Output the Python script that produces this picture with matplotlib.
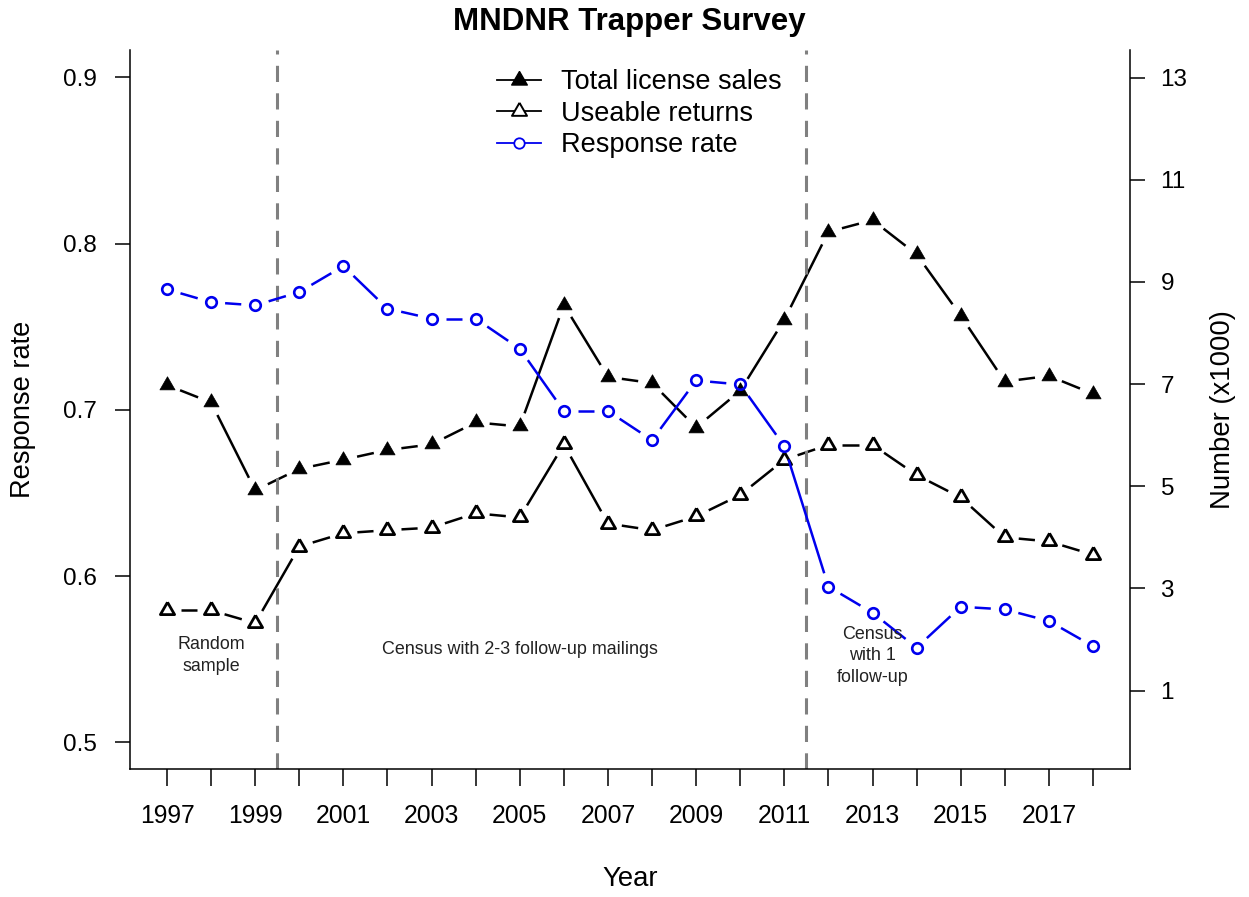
"""
MNDNR Trapper Survey: license sales, useable returns and response rate, 1997-2018.
Draws R-style type="b" lines (segments stop short of the points).
"""

import numpy as np
import matplotlib

matplotlib.use("Agg")
import matplotlib.pyplot as plt
from matplotlib.lines import Line2D

plt.rcParams["font.family"] = ["Liberation Sans", "DejaVu Sans"]

years = list(range(1997, 2019))

# left axis
response_rate = [
    0.7725, 0.7648, 0.7629, 0.7709, 0.7865, 0.7609, 0.7549, 0.7549, 0.7368,
    0.6993, 0.6993, 0.6818, 0.7177, 0.7153, 0.6782, 0.5937, 0.5780, 0.5570,
    0.5816, 0.5800, 0.5730, 0.5579,
]
# right axis (x1000)
total_license_sales = [
    6.98, 6.64, 4.92, 5.34, 5.52, 5.71, 5.82, 6.25, 6.17, 8.55, 7.14, 7.02,
    6.15, 6.87, 8.26, 9.98, 10.21, 9.54, 8.34, 7.05, 7.16, 6.81,
]
useable_returns = [
    2.57, 2.57, 2.32, 3.82, 4.08, 4.14, 4.19, 4.47, 4.39, 5.82, 4.27, 4.14,
    4.41, 4.83, 5.52, 5.81, 5.81, 5.22, 4.78, 4.00, 3.92, 3.66,
]

period_breaks = [1999.5, 2011.5]
period_labels = ["Random\nsample", "Census with 2-3 follow-up mailings", "Census\nwith 1\nfollow-up"]
period_label_x = [1998, 2005, 2013]
period_label_y = [0.5525, 0.556, 0.552]

W, H = 1249, 897
# equilateral triangle, circumcentre on the point (like R pch 2/17)
TRI = [(0.0, 1.0), (0.866, -0.5), (-0.866, -0.5), (0.0, 1.0)]
GAP = 14  # px


def type_b(ax, x, y, gap, **kw):
    """Line segments shortened by `gap` pixels at each end."""
    pts = ax.transData.transform(np.column_stack([x, y]))
    inv = ax.transData.inverted()
    for p0, p1 in zip(pts[:-1], pts[1:]):
        d = p1 - p0
        n = np.hypot(*d)
        if n <= 2 * gap:
            continue
        u = d / n
        q = inv.transform(np.array([p0 + u * gap, p1 - u * gap]))
        ax.plot(q[:, 0], q[:, 1], solid_capstyle="butt", **kw)


fig = plt.figure(figsize=(W / 100, H / 100), dpi=100)
ax = fig.add_axes([130 / W, 1 - 769 / H, 1000 / W, 719 / H])
ax2 = ax.twinx()
ax.set_zorder(ax2.get_zorder() + 1)
ax.patch.set_visible(False)

ax.set_xlim(1996.16, 2018.84)
ax.set_ylim(0.484, 0.9165)
ax2.set_ylim(-0.535, 13.54)

for a in (ax, ax2):
    for s in a.spines.values():
        s.set_linewidth(1.1)
ax.spines["top"].set_visible(False)
ax.spines["right"].set_visible(False)
ax2.spines["top"].set_visible(False)
ax2.spines["left"].set_visible(False)
ax2.spines["bottom"].set_visible(False)

# period separators
for xb in period_breaks:
    ax.axvline(xb, color="#808080", lw=2.2, dashes=(5.3, 3.7), zorder=1)

# series
lw = 1.8
type_b(ax2, years, total_license_sales, GAP, color="black", lw=lw, zorder=2)
ax2.plot(years, total_license_sales, ls="none", marker=TRI, ms=12.6,
         mfc="black", mec="black", mew=0.5, zorder=3)
type_b(ax2, years, useable_returns, GAP, color="black", lw=lw, zorder=2)
ax2.plot(years, useable_returns, ls="none", marker=TRI, ms=11.8,
         mfc="none", mec="black", mew=2.0, zorder=3)
type_b(ax, years, response_rate, GAP, color="#0000ee", lw=lw, zorder=2)
ax.plot(years, response_rate, ls="none", marker="o", ms=7.6,
        mfc="none", mec="#0000ee", mew=1.9, zorder=3)

for tx, ty, lab in zip(period_label_x, period_label_y, period_labels):
    ax.text(tx, ty, lab, ha="center", va="center", fontsize=12.9,
            color="#222222", linespacing=1.38, zorder=4)

# axes / ticks
ax.set_xticks(years)
ax.set_xticklabels([str(y) if (y - 1997) % 2 == 0 else "" for y in years])
ax.set_yticks([0.5, 0.6, 0.7, 0.8, 0.9])
ax.set_yticklabels(["0.5", "0.6", "0.7", "0.8", "0.9"])
ax2.set_yticks([1, 3, 5, 7, 9, 11, 13])
ax.tick_params(axis="x", direction="out", length=12, width=1.1, pad=13, labelsize=17.8)
ax.tick_params(axis="y", direction="out", length=11, width=1.1, pad=13, labelsize=17.5)
ax2.tick_params(axis="y", direction="out", length=11, width=1.1, pad=11, labelsize=17.5)

ax.set_xlabel("Year", fontsize=19.8)
ax.xaxis.set_label_coords(0.5, (769 - 879) / 719)
ax.xaxis.label.set_va("center")
ax.set_ylabel("Response rate", fontsize=19.6)
ax.yaxis.set_label_coords((23 - 130) / 1000, 0.5)
ax.yaxis.label.set_va("center")
ax2.set_ylabel("Number (x1000)", fontsize=19.8)
ax2.yaxis.set_label_coords((1223 - 130) / 1000, 0.5)
ax2.yaxis.label.set_va("center")

fig.text(629 / W, 1 - 22 / H, "MNDNR Trapper Survey", ha="center", va="center",
         fontsize=22.5, fontweight="bold")

handles = [
    Line2D([0], [0], color="black", lw=1.3, marker=TRI, ms=13, mfc="black",
           mec="black", label="Total license sales"),
    Line2D([0], [0], color="black", lw=1.3, marker=TRI, ms=12.5, mfc="white",
           mec="black", mew=1.4, label="Useable returns"),
    Line2D([0], [0], color="#0000ee", lw=1.3, marker="o", ms=7.5, mfc="white",
           mec="#0000ee", mew=1.3, label="Response rate"),
]
ax.legend(handles=handles, loc="upper left", bbox_to_anchor=(497 / W, 1 - 69 / H),
          bbox_transform=fig.transFigure, frameon=False, fontsize=19.5,
          handlelength=1.63, handletextpad=0.72, labelspacing=0.21,
          borderpad=0, borderaxespad=0)

fig.savefig("out.png", dpi=100)
